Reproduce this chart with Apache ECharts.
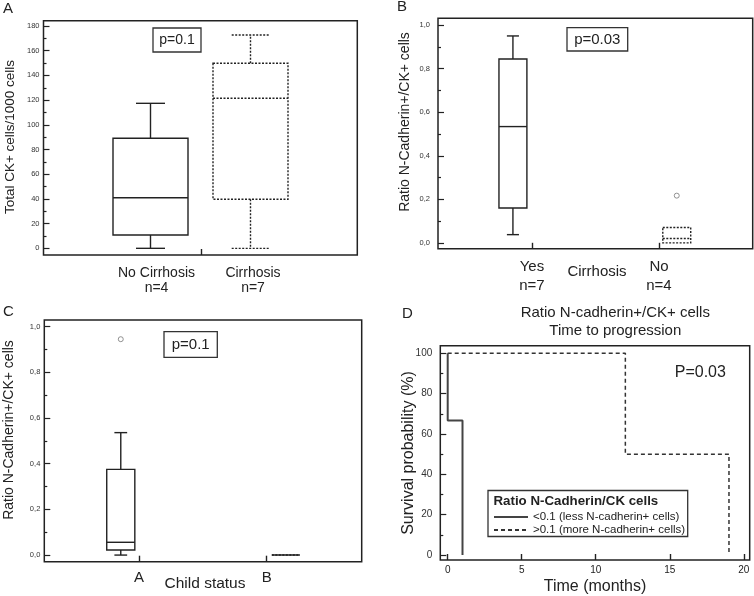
<!DOCTYPE html>
<html><head><meta charset="utf-8">
<script src="https://cdn.jsdelivr.net/npm/echarts@6/dist/echarts.min.js"></script>
<style>html,body{margin:0;padding:0;background:#fff}#c{width:754px;height:596px}</style>
</head><body><div id="c"></div>
<script>
// ---------- DATA ----------
// Panel A: Total CK+ cells / 1000 cells by cirrhosis
const aCategories = ['No Cirrhosis\nn=4', 'Cirrhosis\nn=7'];
// [min, Q1, median, Q3, max]
const aNoCirrhosis = [0, 10.8, 41.0, 89.1, 117.4];
const aCirrhosis = [0, 39.7, 121.5, 149.8, 172.7];
const aYTicks = [0, 20, 40, 60, 80, 100, 120, 140, 160, 180];
const aYMinor = [10, 30, 50, 70, 90, 110, 130, 150, 170];

// Panel B: Ratio N-Cadherin+/CK+ by cirrhosis
const bCategories = ['Yes\nn=7', 'No\nn=4'];
const bYes = [0.038, 0.160, 0.534, 0.844, 0.950];
const bNo = [0, 0, 0.020, 0.071, 0.071];
const bNoOutliers = [0.217];
const bYTicks = [0, 0.2, 0.4, 0.6, 0.8, 1.0];
const bYMinor = [0.1, 0.3, 0.5, 0.7, 0.9];

// Panel C: Ratio N-Cadherin+/CK+ by Child status
const cCategories = ['A', 'B'];
const cA = [0, 0.022, 0.056, 0.375, 0.536];
const cB = [0, 0, 0, 0, 0];
const cAOutliers = [0.945];
const cYTicks = [0, 0.2, 0.4, 0.6, 0.8, 1.0];
const cYMinor = [0.1, 0.3, 0.5, 0.7, 0.9];

// Panel D: Kaplan-Meier time to progression
const dLowName = '<0.1 (less N-cadherin+ cells)';
const dHighName = '>0.1 (more N-cadherin+ cells)';
const dLowTime = [0, 0, 1, 1];
const dLowSurv = [100, 66.7, 66.7, 0];
const dHighTime = [0, 12, 12, 19, 19];
const dHighSurv = [100, 100, 50, 50, 0];
const dXTicks = [0, 5, 10, 15, 20];
const dYTicks = [0, 20, 40, 60, 80, 100];
const dYMinor = [10, 30, 50, 70, 90];

// ---------- RENDER ----------
const FONT = '"Liberation Sans", Arial, Helvetica, sans-serif';
const INK = '#222';

function boxRenderer(boxW, capW, dash) {
  return function (params, api) {
    const x = api.value(0);
    const mn = api.value(1), q1 = api.value(2), md = api.value(3), q3 = api.value(4), mx = api.value(5);
    const hw = api.size([boxW, 0])[0] / 2;
    const cw = api.size([capW, 0])[0] / 2;
    const c = (y) => api.coord([x, y]);
    const pMin = c(mn), pQ1 = c(q1), pMd = c(md), pQ3 = c(q3), pMax = c(mx);
    const cx = pMd[0];
    const style = { stroke: INK, lineWidth: 1.4, fill: 'transparent', lineDash: dash };
    const line = (x1, y1, x2, y2) => ({ type: 'line', shape: { x1, y1, x2, y2 }, style });
    const ch = [];
    ch.push({ type: 'rect', shape: { x: cx - hw, y: pQ3[1], width: 2 * hw, height: pQ1[1] - pQ3[1] }, style });
    ch.push(line(cx - hw, pMd[1], cx + hw, pMd[1]));
    if (mx > q3) { ch.push(line(cx, pQ3[1], cx, pMax[1])); ch.push(line(cx - cw, pMax[1], cx + cw, pMax[1])); }
    if (mn < q1) { ch.push(line(cx, pQ1[1], cx, pMin[1])); ch.push(line(cx - cw, pMin[1], cx + cw, pMin[1])); }
    return { type: 'group', children: ch };
  };
}

function boxSeries(xi, yi, pos, vals, boxW, capW, dash) {
  return {
    type: 'custom', xAxisIndex: xi, yAxisIndex: yi,
    renderItem: boxRenderer(boxW, capW, dash),
    encode: { x: 0, y: [1, 2, 3, 4, 5] },
    data: [[pos].concat(vals)], silent: true
  };
}
function outlierSeries(xi, yi, pos, vals) {
  return {
    type: 'scatter', xAxisIndex: xi, yAxisIndex: yi, symbol: 'circle', symbolSize: 5,
    itemStyle: { color: 'transparent', borderColor: '#777', borderWidth: 1 },
    data: vals.map(v => [pos, v]), silent: true
  };
}

const comma = (v) => v.toFixed(1).replace('.', ',');

function yMajor(grid, min, max, ticks, fmt, size, margin) {
  return {
    type: 'value', gridIndex: grid, min, max, position: 'left',
    axisLine: { show: false, onZero: false }, splitLine: { show: false },
    axisTick: { show: true, inside: true, length: 6, customValues: ticks, lineStyle: { color: INK, width: 1.2 } },
    axisLabel: { show: true, customValues: ticks, formatter: fmt, fontSize: size, margin, color: '#333', fontFamily: FONT }
  };
}
function yMinorAx(grid, min, max, ticks) {
  return {
    type: 'value', gridIndex: grid, min, max, position: 'left',
    axisLine: { show: false, onZero: false }, splitLine: { show: false },
    axisTick: { show: true, inside: true, length: 3, customValues: ticks, lineStyle: { color: INK, width: 1.2 } },
    axisLabel: { show: false }
  };
}
function xCat(grid, min, max, tickPos, labelPos, labels, size, lh, margin) {
  return {
    type: 'value', gridIndex: grid, min, max, position: 'bottom',
    axisLine: { show: false, onZero: false }, splitLine: { show: false },
    axisTick: { show: true, inside: true, length: 6, customValues: tickPos, lineStyle: { color: INK, width: 1.4 } },
    axisLabel: {
      show: true, customValues: labelPos,
      formatter: (v) => { let bi = 0; labelPos.forEach((p, i) => { if (Math.abs(p - v) < Math.abs(labelPos[bi] - v)) bi = i; }); return labels[bi]; },
      fontSize: size, lineHeight: lh, margin, color: INK, fontFamily: FONT, align: 'center'
    }
  };
}

const gridStyle = { show: true, borderColor: INK, borderWidth: 1.5, backgroundColor: 'transparent', containLabel: false };

const option = {
  animation: false,
  textStyle: { fontFamily: FONT },
  grid: [
    Object.assign({ left: 43.5, top: 20.7, width: 313.8, height: 234.3 }, gridStyle),
    Object.assign({ left: 438, top: 18.3, width: 314.7, height: 230.5 }, gridStyle),
    Object.assign({ left: 44.3, top: 320, width: 317.4, height: 241.7 }, gridStyle),
    Object.assign({ left: 440.3, top: 345.7, width: 309.4, height: 214.3 }, gridStyle)
  ],
  xAxis: [
    xCat(0, -0.07, 3.068, [1.505], [1.06, 2.025], aCategories, 14, 15, 11),
    xCat(1, 0.26, 2.738, [1, 2], [1, 2], bCategories, 15, 19, 9),
    xCat(2, 0.258, 2.744, [1, 2], [1, 2], cCategories, 15, 17, 8),
    {
      type: 'value', gridIndex: 3, min: -0.5, max: 20.4, position: 'bottom',
      axisLine: { show: false, onZero: false }, splitLine: { show: false },
      axisTick: { show: true, inside: true, length: 6, customValues: dXTicks, lineStyle: { color: INK, width: 1.4 } },
      axisLabel: { show: true, customValues: dXTicks, fontSize: 10, margin: 5, color: INK, fontFamily: FONT },
      name: 'Time (months)', nameLocation: 'middle', nameGap: 19,
      nameTextStyle: { fontSize: 16, color: INK, fontFamily: FONT }
    }
  ],
  yAxis: [
    yMajor(0, -5.4, 184.3, aYTicks, (v) => String(v), 7.5, 4),
    yMinorAx(0, -5.4, 184.3, aYMinor),
    yMajor(1, -0.027, 1.031, bYTicks, comma, 7.5, 8),
    yMinorAx(1, -0.027, 1.031, bYMinor),
    yMajor(2, -0.029, 1.029, cYTicks, comma, 7.5, 4),
    yMinorAx(2, -0.029, 1.029, cYMinor),
    yMajor(3, -2.5, 103.8, dYTicks, (v) => String(v), 10, 8),
    yMinorAx(3, -2.5, 103.8, dYMinor)
  ],
  legend: {
    left: 493, top: 511, padding: 0, orient: 'vertical', itemWidth: 34, itemHeight: 8, itemGap: 1,
    data: [dLowName, dHighName],
    itemStyle: { opacity: 0 },
    textStyle: { fontSize: 11.5, lineHeight: 10, color: INK, fontFamily: FONT, padding: [0, 0, 0, 0] },
    selectedMode: false
  },
  series: [
    boxSeries(0, 0, 1, aNoCirrhosis, 0.75, 0.29, null),
    boxSeries(0, 0, 2, aCirrhosis, 0.75, 0.376, [2, 1.5]),
    boxSeries(1, 2, 0.85, bYes, 0.22, 0.095, null),
    boxSeries(1, 2, 2.14, bNo, 0.22, 0.095, [2, 1.5]),
    outlierSeries(1, 2, 2.14, bNoOutliers),
    boxSeries(2, 4, 0.857, cA, 0.22, 0.1, null),
    boxSeries(2, 4, 2.15, cB, 0.22, 0.1, [2, 1.5]),
    outlierSeries(2, 4, 0.857, cAOutliers),
    {
      name: dLowName, type: 'line', xAxisIndex: 3, yAxisIndex: 6, symbol: 'none',
      lineStyle: { color: '#444', width: 2, type: 'solid' }, itemStyle: { color: '#444' },
      data: dLowTime.map((t, i) => [t, dLowSurv[i]])
    },
    {
      name: dHighName, type: 'line', xAxisIndex: 3, yAxisIndex: 6, symbol: 'none',
      lineStyle: { color: '#333', width: 1.5, type: [4, 3] }, itemStyle: { color: '#333' },
      data: dHighTime.map((t, i) => [t, dHighSurv[i]])
    }
  ],
  graphic: [
    // panel letters
    { type: 'text', x: 3, y: 1, style: { text: 'A', fontSize: 15, fontFamily: FONT, fill: INK } },
    { type: 'text', x: 397, y: -1, style: { text: 'B', fontSize: 15, fontFamily: FONT, fill: INK } },
    { type: 'text', x: 3, y: 304, style: { text: 'C', fontSize: 15, fontFamily: FONT, fill: INK } },
    { type: 'text', x: 402, y: 306, style: { text: 'D', fontSize: 15, fontFamily: FONT, fill: INK } },
    // axis titles
    { type: 'text', x: 10, y: 137, rotation: Math.PI / 2, style: { text: 'Total CK+ cells/1000 cells', fontSize: 13.5, fontFamily: FONT, fill: INK, align: 'center', verticalAlign: 'middle' } },
    { type: 'text', x: 405, y: 122, rotation: Math.PI / 2, style: { text: 'Ratio N-Cadherin+/CK+ cells', fontSize: 14, fontFamily: FONT, fill: INK, align: 'center', verticalAlign: 'middle' } },
    { type: 'text', x: 9.5, y: 430, rotation: Math.PI / 2, style: { text: 'Ratio N-Cadherin+/CK+ cells', fontSize: 14, fontFamily: FONT, fill: INK, align: 'center', verticalAlign: 'middle' } },
    { type: 'text', x: 408.7, y: 453, rotation: Math.PI / 2, style: { text: 'Survival probability (%)', fontSize: 16, fontFamily: FONT, fill: INK, align: 'center', verticalAlign: 'middle' } },
    { type: 'text', x: 597, y: 272, style: { text: 'Cirrhosis', fontSize: 15, fontFamily: FONT, fill: INK, align: 'center', verticalAlign: 'middle' } },
    { type: 'text', x: 205, y: 583.5, style: { text: 'Child status', fontSize: 15.5, fontFamily: FONT, fill: INK, align: 'center', verticalAlign: 'middle' } },
    // p-value boxes
    { type: 'rect', shape: { x: 153, y: 28, width: 48, height: 24 }, style: { fill: '#fff', stroke: '#333', lineWidth: 1.3 } },
    { type: 'text', x: 177, y: 40, style: { text: 'p=0.1', fontSize: 14, fontFamily: FONT, fill: INK, align: 'center', verticalAlign: 'middle' } },
    { type: 'rect', shape: { x: 567, y: 27.7, width: 60.7, height: 23.3 }, style: { fill: '#fff', stroke: '#333', lineWidth: 1.3 } },
    { type: 'text', x: 597.3, y: 39.5, style: { text: 'p=0.03', fontSize: 15, fontFamily: FONT, fill: INK, align: 'center', verticalAlign: 'middle' } },
    { type: 'rect', shape: { x: 164, y: 331.7, width: 53.3, height: 25.6 }, style: { fill: '#fff', stroke: '#333', lineWidth: 1.3 } },
    { type: 'text', x: 190.7, y: 344.7, style: { text: 'p=0.1', fontSize: 15, fontFamily: FONT, fill: INK, align: 'center', verticalAlign: 'middle' } },
    { type: 'text', x: 700.3, y: 373, style: { text: 'P=0.03', fontSize: 16, fontFamily: FONT, fill: INK, align: 'center', verticalAlign: 'middle' } },
    // D title
    { type: 'text', x: 615.3, y: 312.7, style: { text: 'Ratio N-cadherin+/CK+ cells', fontSize: 15, fontFamily: FONT, fill: INK, align: 'center', verticalAlign: 'middle' } },
    { type: 'text', x: 615.3, y: 330.7, style: { text: 'Time to progression', fontSize: 15, fontFamily: FONT, fill: INK, align: 'center', verticalAlign: 'middle' } },
    // legend frame + title
    { type: 'rect', z: -1, shape: { x: 488, y: 490.5, width: 199.7, height: 46 }, style: { fill: '#fff', stroke: '#333', lineWidth: 1.3 } },
    { type: 'text', x: 493.5, y: 501.5, style: { text: 'Ratio N-Cadherin/CK cells', fontSize: 13.3, fontWeight: 'bold', fontFamily: FONT, fill: INK, align: 'left', verticalAlign: 'middle' } }
  ]
};

const chart = echarts.init(document.getElementById('c'), null, { renderer: 'canvas' });
chart.setOption(option);
</script></body></html>
